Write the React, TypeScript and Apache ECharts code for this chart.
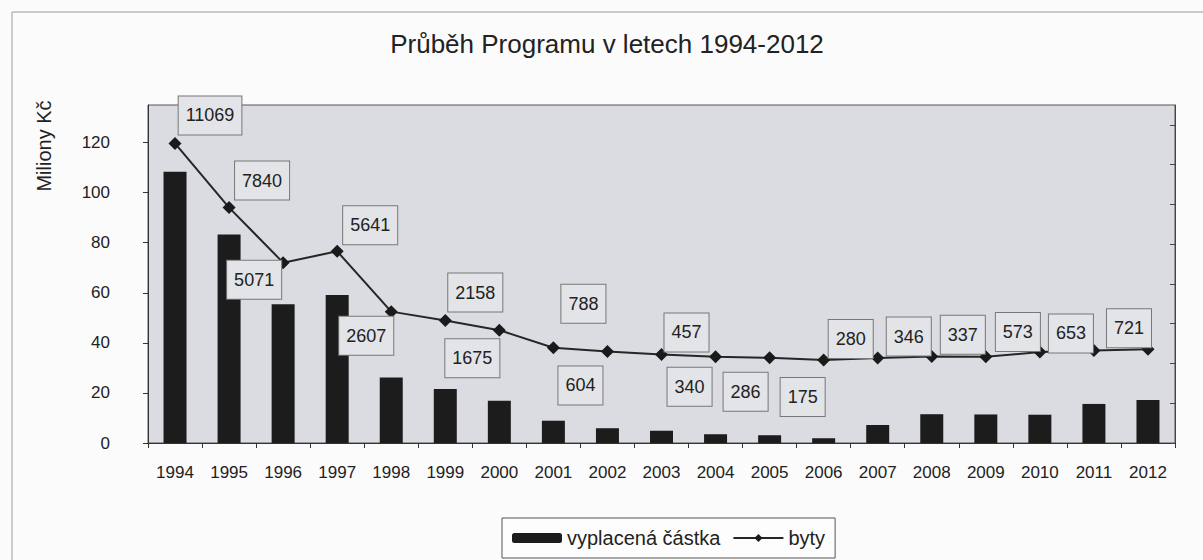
import React, { useEffect, useRef } from "react";
import * as echarts from "echarts";

const years = ["1994","1995","1996","1997","1998","1999","2000","2001","2002","2003","2004","2005","2006","2007","2008","2009","2010","2011","2012"];
const payouts = [108.3, 83.3, 55.4, 59.1, 26.2, 21.6, 16.9, 8.9, 5.9, 4.9, 3.5, 3.1, 1.9, 7.2, 11.5, 11.4, 11.3, 15.6, 17.2];
const flats = [11069, 7840, 5071, 5641, 2607, 2158, 1675, 788, 604, 457, 340, 286, 175, 280, 346, 337, 573, 653, 721];
const leftTicks = [0, 20, 40, 60, 80, 100, 120];
const rightTicks = [-4000, -2000, 0, 2000, 4000, 6000, 8000, 10000, 12000];
// label box offsets (px) relative to the point
const labelOffsets: [number, number][] = [
  [35, -28], [33, -27], [-29, 17], [33, -26], [-25, 24], [30, -28], [-27, 28], [30, -44],
  [-27, 34], [25, -22], [-26, 30], [-24, 34], [-21, 37], [-27, -19], [-23, -20], [-23, -22],
  [-22, -20], [-23, -17], [-19, -21],
];

const FONT = "'Liberation Sans', Arial, sans-serif";

export default function App() {
  const ref = useRef<HTMLDivElement>(null);
  useEffect(() => {
    if (!ref.current) return;
    const chart = echarts.init(ref.current, null, { renderer: "svg" });
    chart.setOption({
      animation: false,
      backgroundColor: "#fbfbfb",
      textStyle: { fontFamily: FONT },
      title: {
        text: "Průběh Programu v letech 1994-2012",
        left: 602,
        top: 26,
        textAlign: "center",
        textStyle: { fontFamily: FONT, fontSize: 26, fontWeight: "normal", color: "#222" },
      },
      graphic: [
        {
          type: "rect",
          shape: { x: 12, y: 12, width: 1200, height: 600 },
          style: { fill: "none", stroke: "#9a9a9a", lineWidth: 1 },
          silent: true,
          z: -1,
        },
        {
          type: "text",
          x: 44,
          y: 146,
          rotation: Math.PI / 2,
          style: {
            text: "Miliony Kč",
            fontFamily: FONT,
            fontSize: 20,
            fill: "#222",
            align: "center",
            verticalAlign: "middle",
          },
        },
      ],
      legend: {
        left: 502,
        top: 518,
        padding: [10, 10],
        itemGap: 12,
        itemWidth: 50,
        itemHeight: 10,
        borderColor: "#555",
        borderWidth: 1,
        backgroundColor: "#fdfdfd",
        textStyle: { fontFamily: FONT, fontSize: 20, color: "#222" },
        data: ["vyplacená částka", "byty"],
      },
      grid: {
        left: 148,
        right: 28,
        top: 105,
        bottom: 117,
        show: true,
        backgroundColor: "#dadce1",
        borderColor: "#555",
        borderWidth: 1,
      },
      xAxis: {
        type: "category",
        data: years,
        boundaryGap: true,
        axisLine: { lineStyle: { color: "#333" } },
        axisTick: { show: true, length: 5, lineStyle: { color: "#333" } },
        axisLabel: { fontFamily: FONT, fontSize: 17, color: "#222", margin: 21 },
      },
      yAxis: [
        {
          type: "value",
          min: 0,
          max: 135,
          interval: 20,
          axisLine: { show: true, lineStyle: { color: "#333" } },
          axisTick: { show: true, length: 5, customValues: leftTicks, lineStyle: { color: "#333" } },
          axisLabel: { fontFamily: FONT, fontSize: 17, color: "#222", margin: 38, customValues: leftTicks },
          splitLine: { show: false },
        },
        {
          type: "value",
          min: -4000,
          max: 13000,
          interval: 2000,
          position: "right",
          axisLine: { show: true, lineStyle: { color: "#444" } },
          axisTick: { show: true, inside: true, length: 5, customValues: rightTicks, lineStyle: { color: "#444" } },
          axisLabel: { show: false },
          splitLine: { show: false },
        },
      ],
      series: [
        {
          name: "vyplacená částka",
          type: "bar",
          yAxisIndex: 0,
          data: payouts,
          barWidth: 23,
          itemStyle: { color: "#1c1c1c" },
        },
        {
          name: "byty",
          type: "line",
          yAxisIndex: 1,
          data: flats,
          symbol: "diamond",
          symbolSize: 13,
          itemStyle: { color: "#1a1a1a" },
          lineStyle: { color: "#262626", width: 2 },
          z: 5,
          label: {
            show: true,
            position: "inside",
            fontFamily: FONT,
            fontSize: 18,
            color: "#222",
            backgroundColor: "#e3e4e7",
            borderColor: "#777",
            borderWidth: 1,
            padding: [10, 7],
          },
          labelLayout: (p: any) => {
            const o = labelOffsets[p.dataIndex] || [0, 0];
            return { dx: o[0], dy: o[1], hideOverlap: false };
          },
        },
      ],
    });
    return () => chart.dispose();
  }, []);
  return (
    <div
      ref={ref}
      style={{ position: "absolute", left: 0, top: 0, width: 1203, height: 560 }}
    />
  );
}
